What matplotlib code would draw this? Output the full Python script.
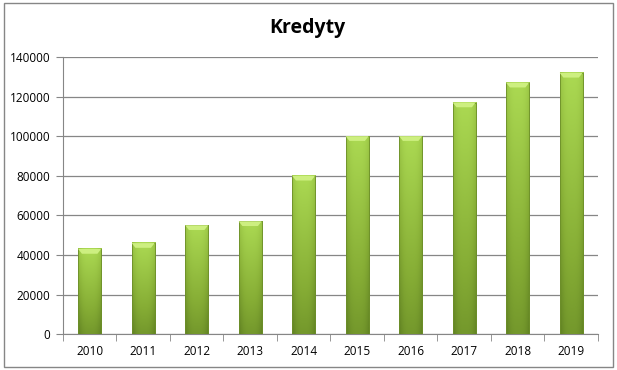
import matplotlib
matplotlib.use("Agg")
import matplotlib.pyplot as plt
import numpy as np
from matplotlib.colors import LinearSegmentedColormap
from matplotlib.patches import Rectangle

years = ["2010", "2011", "2012", "2013", "2014", "2015", "2016", "2017", "2018", "2019"]
credits = [43000, 46000, 55000, 57000, 80000, 100000, 100000, 117000, 127000, 132000]
yticks = [0, 20000, 40000, 60000, 80000, 100000, 120000, 140000]

plt.rcParams["font.family"] = ["Open Sans", "DejaVu Sans"]

fig = plt.figure(figsize=(6.17, 3.70), dpi=100)
ax = fig.add_axes([0.102, 0.097, 0.867, 0.749])

# green gradient: darker at bottom and at the side edges
cmap = LinearSegmentedColormap.from_list("g", ["#5a7a1f", "#86ad35", "#abd952"])
width = 0.43
x = np.arange(len(years))
for xi, val in zip(x, credits):
    xs = np.linspace(-1, 1, 40)
    ys = np.linspace(0, 1, 60)[:, None]
    grad = 0.3 + 0.7 * ys - 0.25 * (np.abs(xs)[None, :] ** 3)
    ax.imshow(grad, cmap=cmap, vmin=0, vmax=1, origin="lower", aspect="auto",
              extent=(xi - width / 2, xi + width / 2, 0, val), zorder=3,
              interpolation="bilinear")
    ax.add_patch(Rectangle((xi - width / 2, 0), width, val, fill=False,
                           edgecolor="#6d8f2a", linewidth=0.6, zorder=4))
    # bevel highlight on the top
    bev = 2400
    ax.fill([xi - width / 2, xi + width / 2, xi + width / 2 - 0.07, xi - width / 2 + 0.07],
            [val, val, val - bev, val - bev], color="#cdef80", zorder=4, linewidth=0)

ax.set_xlim(-0.5, len(years) - 0.5)
ax.set_ylim(0, 140000)
ax.set_yticks(yticks)
ax.set_yticklabels([str(t) for t in yticks])
ax.set_xticks(x)
ax.set_xticklabels(years)
ax.set_xticks(np.arange(-0.5, len(years), 1), minor=True)
ax.tick_params(axis="x", which="major", length=0, pad=8, labelsize=8.5)
ax.tick_params(axis="x", which="minor", length=5, color="#868686", direction="out")
ax.tick_params(axis="y", length=5, color="#868686", direction="out", labelsize=8.5, pad=4)

ax.grid(axis="y", color="#868686", linewidth=0.9, zorder=0)
ax.set_axisbelow(True)
for side in ["top", "right"]:
    ax.spines[side].set_visible(False)
for side in ["left", "bottom"]:
    ax.spines[side].set_color("#868686")

fig.text(0.498, 0.925, "Kredyty", ha="center", va="center", fontsize=14, fontweight="bold")

fig.patches.append(Rectangle((0.006, 0.008), 0.988, 0.984, transform=fig.transFigure,
                             fill=False, edgecolor="#868686", linewidth=1))

fig.savefig("out.png", dpi=100)
